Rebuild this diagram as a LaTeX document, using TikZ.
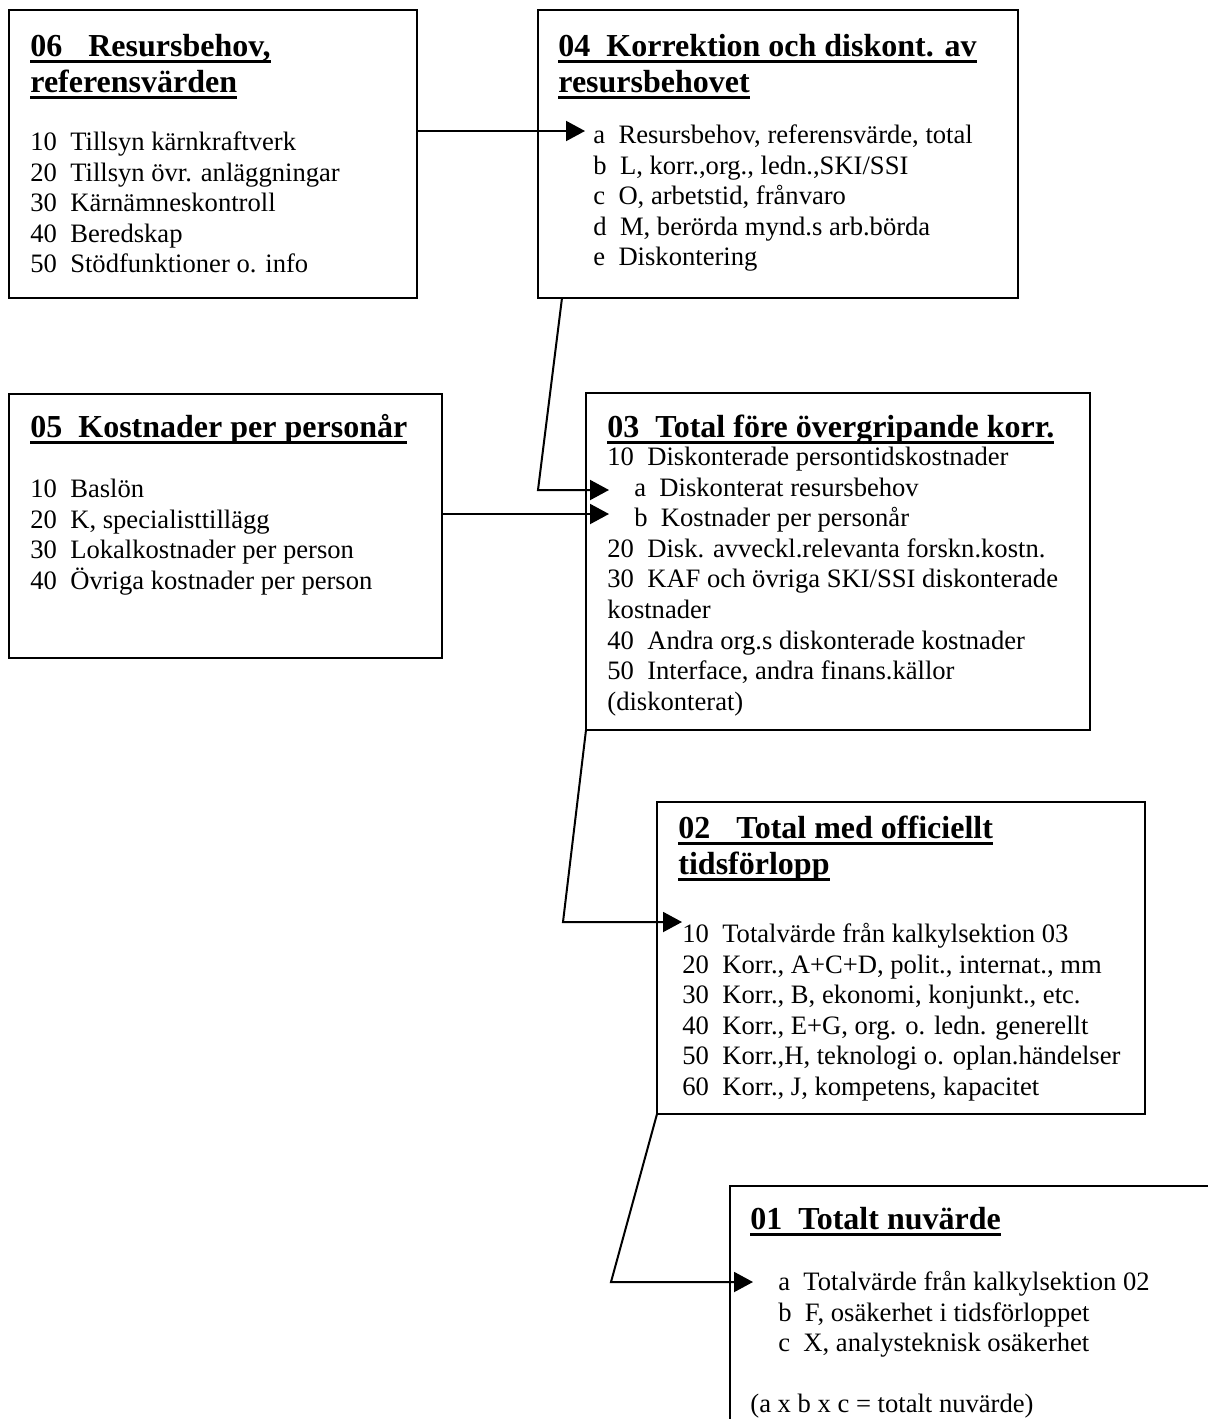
\documentclass[tikz,border=0pt]{standalone}
\usepackage{fontspec}
\setmainfont{Liberation Serif}
\usetikzlibrary{arrows.meta}

\newcommand{\rubrik}{\fontsize{16}{18}\selectfont\bfseries}
\newcommand{\brod}{\fontsize{13.3}{15.3}\selectfont}
\newcommand{\topp}{\rule{0pt}{12pt}}
\newsavebox{\ulbox}
\newcommand{\understr}[1]{\sbox{\ulbox}{#1}\rlap{\rule[-3.4pt]{\wd\ulbox}{1.7pt}}\usebox{\ulbox}}

\tikzset{
  ruta/.style={draw,line width=1pt,anchor=north west,inner sep=0pt,outer sep=0pt},
  rubriktext/.style={anchor=north west,inner sep=0pt,align=left,font=\rubrik},
  radtext/.style={anchor=north west,inner sep=0pt,align=left,font=\brod},
  pil/.style={line width=1pt,-{Triangle[length=9.5pt,width=10pt]}}
}

\begin{document}
\begin{tikzpicture}[x=0.5pt,y=-0.5pt]
            \clip (0,0) rectangle (1208,1419);

            \node[ruta,minimum width=204pt,minimum height=144pt] (k06) at (9,10){};
            \node[ruta,minimum width=240pt,minimum height=144pt] (k04) at (538,10){};
            \node[ruta,minimum width=216.5pt,minimum height=132pt] (k05) at (9,394){};
            \node[ruta,minimum width=252pt,minimum height=168.5pt] (k03) at (586,393){};
            \node[ruta,minimum width=244pt,minimum height=156pt] (k02) at (657,802){};
            \node[ruta,minimum width=300pt,minimum height=200pt] (k01) at (730,1186){};

            \node[rubriktext] (h06) at (30,32){\topp\understr{06\hspace{13pt}Resursbehov,}\\\understr{referensvärden}};
            \node[radtext] (l06) at (30,126){\topp 10\ \ Tillsyn kärnkraftverk\\
              20\ \ Tillsyn övr. anläggningar\\
              30\ \ Kärnämneskontroll\\
              40\ \ Beredskap\\
              50\ \ Stödfunktioner o. info};

            \node[rubriktext] (h04) at (558,32){\topp\understr{04\ \ Korrektion och diskont. av}\\\understr{resursbehovet}};
            \node[radtext] (l04) at (593,119){\topp a\ \ Resursbehov, referensvärde, total\\
              b\ \ L, korr.,org., ledn.,SKI/SSI\\
              c\ \ O, arbetstid, frånvaro\\
              d\ \ M, berörda mynd.s arb.börda\\
              e\ \ Diskontering};

            \node[rubriktext] (h05) at (30,413){\topp\understr{05\ \ Kostnader per personår}};
            \node[radtext] (l05) at (30,473){\topp 10\ \ Baslön\\
              20\ \ K, specialisttillägg\\
              30\ \ Lokalkostnader per person\\
              40\ \ Övriga kostnader per person};

            \node[rubriktext] (h03) at (607,413){\topp\understr{03\ \ Total före övergripande korr.}};
            \node[radtext] (l03) at (607,441){\topp 10\ \ Diskonterade persontidskostnader\\
              \hspace*{13.5pt}a\ \ Diskonterat resursbehov\\
              \hspace*{13.5pt}b\ \ Kostnader per personår\\
              20\ \ Disk. avveckl.relevanta forskn.kostn.\\
              30\ \ KAF och övriga SKI/SSI diskonterade\\
              kostnader\\
              40\ \ Andra org.s diskonterade kostnader\\
              50\ \ Interface, andra finans.källor\\
              (diskonterat)};

            \node[rubriktext] (h02) at (678,814){\topp\understr{02\hspace{13pt}Total med officiellt}\\\understr{tidsförlopp}};
            \node[radtext] (l02) at (682,918){\topp 10\ \ Totalvärde från kalkylsektion 03\\
              20\ \ Korr., A+C+D, polit., internat., mm\\
              30\ \ Korr., B, ekonomi, konjunkt., etc.\\
              40\ \ Korr., E+G, org. o. ledn. generellt\\
              50\ \ Korr.,H, teknologi o. oplan.händelser\\
              60\ \ Korr., J, kompetens, kapacitet};

            \node[rubriktext] (h01) at (750,1205){\topp\understr{01\ \ Totalt nuvärde}};
            \node[radtext] (l01) at (750,1266){\topp\hspace*{14pt}a\ \ Totalvärde från kalkylsektion 02\\
              \hspace*{14pt}b\ \ F, osäkerhet i tidsförloppet\\
              \hspace*{14pt}c\ \ X, analysteknisk osäkerhet\\[15.3pt]
              (a x b x c = totalt nuvärde)};

            \coordinate (p04a) at (585,131);
            \coordinate (p03a) at (609,490);
            \coordinate (p03b) at (609,514);
            \coordinate (p02) at (682,922);
            \coordinate (p01) at (753,1282);
            \coordinate (b03) at (538,490);
            \coordinate (b02) at (563,922);
            \coordinate (b01) at (611,1282);

            \draw[pil] (k06.east |- p04a) -- (p04a);
            \draw[pil] ([xshift=12pt]k04.south west) -- (b03) -- (p03a);
            \draw[pil] (k05.east |- p03b) -- (p03b);
            \draw[pil] (k03.south west) -- (b02) -- (p02);
            \draw[pil] (k02.south west) -- (b01) -- (p01);
\end{tikzpicture}
\end{document}
